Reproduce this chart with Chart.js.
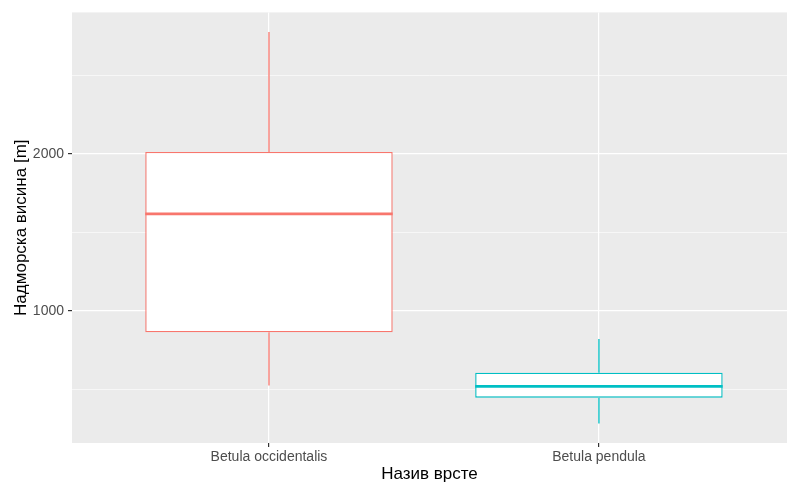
<!DOCTYPE html>
<html>
<head>
<meta charset="utf-8">
<script src="https://cdn.jsdelivr.net/npm/chart.js@4"></script>
<style>
  html, body { margin: 0; padding: 0; background: #fff; overflow: hidden; }
</style>
</head>
<body>
<canvas id="box" width="787" height="485"></canvas>
<script>
var species = ["Betula occidentalis", "Betula pendula"];
var colors = ["#F8766D", "#00BFC4"];
var whiskerLow = [525, 283];
var q1 = [863, 447];
var median = [1618, 519];
var q3 = [2013, 606];
var whiskerHigh = [2777, 821];
var yTicks = [500, 1000, 1500, 2000, 2500];

var boxHalf = 0.375;

// panel background like ggplot
var panelBg = {
  id: 'panelBg',
  beforeDraw: function (chart) {
    var a = chart.chartArea;
    var ctx = chart.ctx;
    ctx.save();
    ctx.fillStyle = '#EBEBEB';
    ctx.fillRect(a.left, a.top, a.right - a.left, a.bottom - a.top);
    ctx.restore();
  }
};

var datasets = [];
datasets.push({
  type: 'bar',
  data: species.map(function (s, i) { return { x: i, y: [q1[i], q3[i]] }; }),
  backgroundColor: '#FFFFFF',
  borderColor: colors,
  borderWidth: 1.4,
  borderSkipped: false,
  categoryPercentage: 1,
  barPercentage: 0.75,
  order: 2
});
species.forEach(function (s, i) {
  datasets.push({
    type: 'line',
    data: [{ x: i, y: whiskerLow[i] }, { x: i, y: q1[i] }],
    borderColor: colors[i], borderWidth: 1.3, pointRadius: 0, order: 3
  });
  datasets.push({
    type: 'line',
    data: [{ x: i, y: q3[i] }, { x: i, y: whiskerHigh[i] }],
    borderColor: colors[i], borderWidth: 1.3, pointRadius: 0, order: 3
  });
  datasets.push({
    type: 'line',
    data: [{ x: i - boxHalf, y: median[i] }, { x: i + boxHalf, y: median[i] }],
    borderColor: colors[i], borderWidth: 2.8, pointRadius: 0, order: 1
  });
});

new Chart(document.getElementById('box'), {
  data: { datasets: datasets },
  plugins: [panelBg],
  options: {
    responsive: false,
    animation: false,
    layout: { padding: { top: 9, right: 0, bottom: 0, left: 11 } },
    plugins: { legend: { display: false }, tooltip: { enabled: false } },
    scales: {
      x: {
        type: 'linear',
        offset: false,
        min: -0.597,
        max: 1.57,
        afterBuildTicks: function (scale) {
          scale.ticks = species.map(function (s, i) { return { value: i }; });
        },
        afterFit: function (scale) { scale.height = 42; },
        border: { display: false },
        grid: { offset: false, color: '#FFFFFF', lineWidth: 1.2, tickLength: 4, tickColor: '#333333' },
        ticks: {
          color: '#4D4D4D',
          font: { family: 'Liberation Sans, Arial, sans-serif', size: 14 },
          padding: 2,
          maxRotation: 0,
          callback: function (v) { return species[v]; }
        },
        title: {
          display: true,
          text: 'Назив врсте',
          color: '#000000',
          font: { family: 'Liberation Sans, Arial, sans-serif', size: 17 },
          padding: { top: 0, bottom: 0 }
        }
      },
      y: {
        type: 'linear',
        min: 158,
        max: 2902,
        afterBuildTicks: function (scale) {
          scale.ticks = yTicks.map(function (v) { return { value: v }; });
        },
        afterFit: function (scale) { scale.width = 61; },
        border: { display: false },
        grid: {
          color: '#FFFFFF',
          lineWidth: function (c) { return c.tick && c.tick.value % 1000 === 0 ? 1.2 : 0.6; },
          tickLength: 4,
          tickColor: function (c) { return c.tick && c.tick.value % 1000 === 0 ? '#333333' : 'rgba(0,0,0,0)'; }
        },
        ticks: {
          color: '#4D4D4D',
          font: { family: 'Liberation Sans, Arial, sans-serif', size: 14 },
          padding: 4,
          callback: function (v) { return v % 1000 === 0 ? String(v) : ''; }
        },
        title: {
          display: true,
          text: 'Надморска висина [m]',
          color: '#000000',
          font: { family: 'Liberation Sans, Arial, sans-serif', size: 17 },
          padding: { top: 0, bottom: 0 }
        }
      }
    }
  }
});
</script>
</body>
</html>
